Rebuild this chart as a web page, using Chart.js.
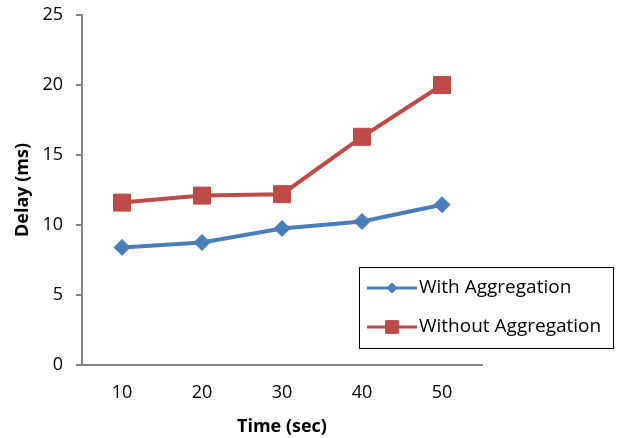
<!DOCTYPE html>
<html>
<head>
<meta charset="utf-8">
<script src="https://cdn.jsdelivr.net/npm/chart.js@4.4.0/dist/chart.umd.min.js"></script>
<style>
  html, body { margin: 0; padding: 0; background: #fff; }
  #wrap { width: 617px; height: 438px; }
</style>
</head>
<body>
<div id="wrap"><canvas id="delayChart" width="617" height="438"></canvas></div>
<script>
const timeLabels = ['10', '20', '30', '40', '50'];
const withAggregation = [8.4, 8.75, 9.75, 10.25, 11.45];
const withoutAggregation = [11.6, 12.1, 12.2, 16.3, 20.0];
const seriesNames = ['With Aggregation', 'Without Aggregation'];

const blue = '#4A7EBB';
const red = '#BE4B48';
const axisGray = '#868686';
const fontFamily = '"Open Sans", "Liberation Sans", sans-serif';

// legend box drawn inside the canvas, to the right, like the original
const boxLegend = {
    id: 'boxLegend',
    afterDraw(chart) {
        const ctx = chart.ctx;
        const x = 359.5, y = 267.5, w = 254, h = 81;
        const markerRadius = [5, 9];
        ctx.save();
        ctx.strokeStyle = '#000';
        ctx.lineWidth = 1;
        ctx.strokeRect(x, y, w, h);
        const rowY = [288, 327];
        chart.data.datasets.forEach((ds, i) => {
            const cy = rowY[i];
            ctx.strokeStyle = ds.borderColor;
            ctx.lineWidth = 3;
            ctx.beginPath();
            ctx.moveTo(367, cy);
            ctx.lineTo(417, cy);
            ctx.stroke();
            ctx.fillStyle = ds.pointBackgroundColor;
            ctx.strokeStyle = ds.pointBorderColor;
            ctx.lineWidth = 1;
            Chart.helpers.drawPoint(ctx, {
                pointStyle: ds.pointStyle,
                radius: markerRadius[i],
                rotation: 0,
                borderWidth: 1
            }, 392, cy);
            ctx.fillStyle = '#000';
            ctx.font = '19px ' + fontFamily;
            ctx.textBaseline = 'middle';
            ctx.textAlign = 'left';
            ctx.fillText(ds.label, 419, cy);
        });
        ctx.restore();
    }
};

const ctx = document.getElementById('delayChart').getContext('2d');
new Chart(ctx, {
    type: 'line',
    data: {
        labels: timeLabels,
        datasets: [{
            label: seriesNames[0],
            data: withAggregation,
            borderColor: blue,
            backgroundColor: blue,
            borderWidth: 4,
            pointStyle: 'rectRot',
            pointRadius: 8,
            pointBackgroundColor: blue,
            pointBorderColor: blue,
            pointBorderWidth: 1,
            tension: 0
        }, {
            label: seriesNames[1],
            data: withoutAggregation,
            borderColor: red,
            backgroundColor: red,
            borderWidth: 4,
            pointStyle: 'rect',
            pointRadius: 12,
            pointBackgroundColor: red,
            pointBorderColor: red,
            pointBorderWidth: 1,
            tension: 0
        }]
    },
    options: {
        responsive: false,
        animation: false,
        layout: { padding: { top: 15, right: 135, bottom: 0, left: 0 } },
        plugins: {
            legend: { display: false },
            tooltip: { enabled: false }
        },
        scales: {
            x: {
                offset: true,
                afterFit: function (scale) {
                    scale.height = 73;
                    scale.paddingLeft = 0;
                    scale.paddingRight = 0;
                },
                border: { color: axisGray, width: 2 },
                grid: { display: true, drawOnChartArea: false, drawTicks: false },
                ticks: {
                    color: '#000',
                    padding: 17,
                    font: { family: fontFamily, size: 18 }
                },
                title: {
                    display: true,
                    text: 'Time (sec)',
                    color: '#000',
                    padding: { top: 0, bottom: 0 },
                    font: { family: fontFamily, size: 18, weight: 'bold' }
                }
            },
            y: {
                min: 0,
                max: 25,
                afterFit: function (scale) {
                    scale.width = 82;
                    scale.paddingTop = 0;
                    scale.paddingBottom = 0;
                },
                border: { color: axisGray, width: 2 },
                grid: {
                    display: true,
                    drawOnChartArea: false,
                    drawTicks: true,
                    tickLength: 6,
                    color: axisGray,
                    lineWidth: 2
                },
                ticks: {
                    stepSize: 5,
                    color: '#000',
                    padding: 13,
                    font: { family: fontFamily, size: 18 }
                },
                title: {
                    display: true,
                    text: 'Delay (ms)',
                    color: '#000',
                    padding: { top: 12, bottom: 0 },
                    font: { family: fontFamily, size: 18, weight: 'bold' }
                }
            }
        }
    },
    plugins: [boxLegend]
});
</script>
</body>
</html>
